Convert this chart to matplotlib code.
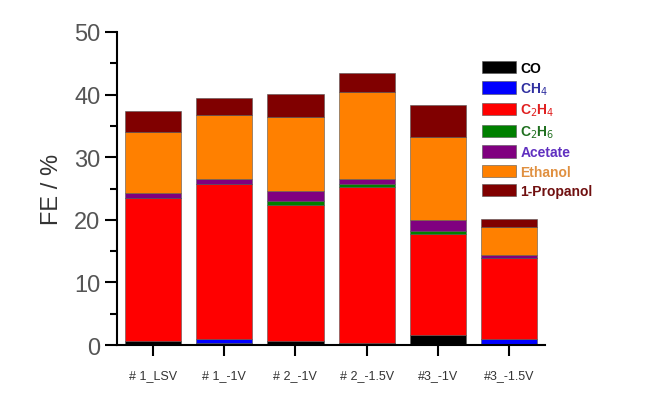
import numpy as np
import matplotlib.pyplot as plt
from matplotlib.ticker import MultipleLocator

plt.rcParams['font.family'] = ['Liberation Sans', 'DejaVu Sans']

# Data (FE %)
samples = ["# 1_LSV", "# 1_-1V", "# 2_-1V", "# 2_-1.5V", "#3_-1V", "#3_-1.5V"]
co = [0.6, 0.4, 0.7, 0.4, 1.6, 0.0]
ch4 = [0.05, 0.5, 0.0, 0.0, 0.0, 0.9]
c2h4 = [22.8, 24.8, 21.6, 24.9, 16.2, 13.0]
c2h6 = [0.0, 0.0, 0.7, 0.4, 0.4, 0.0]
acetate = [0.9, 0.9, 1.65, 0.9, 1.7, 0.5]
ethanol = [9.7, 10.1, 11.7, 13.8, 13.4, 4.5]
propanol = [3.4, 2.7, 3.8, 3.0, 5.0, 1.3]

products = ["CO", "CH$_4$", "C$_2$H$_4$", "C$_2$H$_6$", "Acetate", "Ethanol", "1-Propanol"]
series = [co, ch4, c2h4, c2h6, acetate, ethanol, propanol]
colors = ["#000000", "#0000ff", "#ff0000", "#008000", "#800080", "#ff8000", "#800000"]
text_colors = ["#000000", "#3030a0", "#e02020", "#207020", "#6030c0", "#e09040", "#701010"]

fig = plt.figure(figsize=(6.51, 4.02), dpi=100)
ax = fig.add_axes([0.180, 0.139, 0.657, 0.779])

x = np.arange(1, len(samples) + 1)
bottom = np.zeros(len(samples))
handles = []
for vals, c, lab in zip(series, colors, products):
    b = ax.bar(x, vals, width=0.79, bottom=bottom, color=c, edgecolor="#555555",
               linewidth=0.4, label=lab)
    handles.append(b)
    bottom += np.array(vals)

ax.set_xlim(0.5, 6.5)
ax.set_ylim(0, 50)
ax.set_xticks(x)
ax.set_xticklabels(samples, fontsize=9, color="#333333")
ax.yaxis.set_major_locator(MultipleLocator(10))
ax.yaxis.set_minor_locator(MultipleLocator(5))
ax.tick_params(axis="y", which="major", length=9, width=1.5, labelsize=17,
               labelcolor="#555555", pad=3)
ax.tick_params(axis="y", which="minor", length=5, width=1.5)
ax.tick_params(axis="x", length=8, width=1.5, pad=9)
ax.set_ylabel("FE / %", fontsize=17, color="#333333", labelpad=8)

for s in ["top", "right"]:
    ax.spines[s].set_visible(False)
for s in ["left", "bottom"]:
    ax.spines[s].set_linewidth(1.5)

leg = ax.legend(handles=handles, loc="upper left", bbox_to_anchor=(0.84, 0.925),
                frameon=False, prop={"size": 10, "weight": "bold"},
                handlelength=2.45, handleheight=1.0,
                handletextpad=0.3, labelspacing=0.38, borderaxespad=0)
for t, c in zip(leg.get_texts(), text_colors):
    t.set_color(c)

fig.savefig("out.png", dpi=100)
